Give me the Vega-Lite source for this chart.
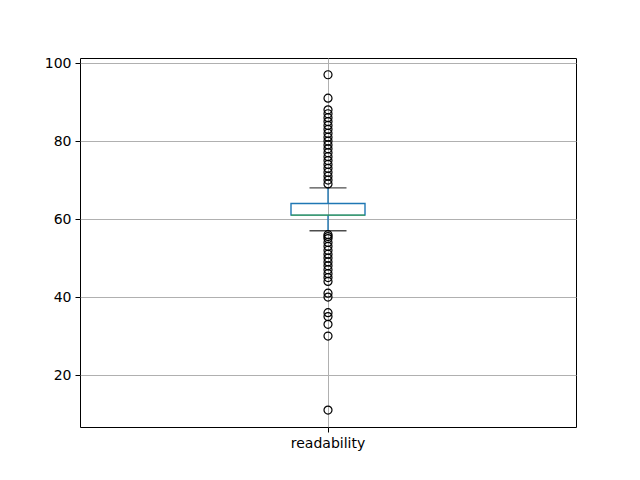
{
  "$schema": "https://vega.github.io/schema/vega-lite/v6.json",
  "autosize": "none",
  "width": 496,
  "height": 369,
  "padding": {"left": 80, "top": 58, "right": 64, "bottom": 53},
  "background": "white",
  "config": {
    "font": "DejaVu Sans",
    "view": {"stroke": "black", "strokeWidth": 1},
    "axis": {
      "labelFont": "DejaVu Sans",
      "labelFontSize": 14,
      "labelColor": "black",
      "tickColor": "black",
      "tickSize": 5,
      "tickWidth": 1,
      "labelPadding": 4,
      "grid": true,
      "gridColor": "#b0b0b0",
      "gridWidth": 1,
      "domain": false,
      "title": null
    }
  },
  "datasets": {
    "summary": [
      {"column": "readability", "lower": 57, "q1": 61, "median": 61, "q3": 64, "upper": 68}
    ],
    "outliers": [
      {"column": "readability", "value": 97},
      {"column": "readability", "value": 91},
      {"column": "readability", "value": 88},
      {"column": "readability", "value": 87},
      {"column": "readability", "value": 86},
      {"column": "readability", "value": 85},
      {"column": "readability", "value": 84},
      {"column": "readability", "value": 83},
      {"column": "readability", "value": 82},
      {"column": "readability", "value": 81},
      {"column": "readability", "value": 80},
      {"column": "readability", "value": 79},
      {"column": "readability", "value": 78},
      {"column": "readability", "value": 77},
      {"column": "readability", "value": 76},
      {"column": "readability", "value": 75},
      {"column": "readability", "value": 74},
      {"column": "readability", "value": 73},
      {"column": "readability", "value": 72},
      {"column": "readability", "value": 71},
      {"column": "readability", "value": 70},
      {"column": "readability", "value": 69},
      {"column": "readability", "value": 56},
      {"column": "readability", "value": 55.5},
      {"column": "readability", "value": 55},
      {"column": "readability", "value": 54},
      {"column": "readability", "value": 53},
      {"column": "readability", "value": 52},
      {"column": "readability", "value": 51},
      {"column": "readability", "value": 50},
      {"column": "readability", "value": 49},
      {"column": "readability", "value": 48},
      {"column": "readability", "value": 47},
      {"column": "readability", "value": 46},
      {"column": "readability", "value": 45},
      {"column": "readability", "value": 44},
      {"column": "readability", "value": 41},
      {"column": "readability", "value": 40},
      {"column": "readability", "value": 36},
      {"column": "readability", "value": 35},
      {"column": "readability", "value": 33},
      {"column": "readability", "value": 30},
      {"column": "readability", "value": 11}
    ]
  },
  "layer": [
    {
      "data": {"name": "summary"},
      "mark": {"type": "rule", "color": "#1f77b4", "strokeWidth": 1.4},
      "encoding": {
        "x": {"field": "column", "type": "nominal", "scale": {"paddingInner": 0, "paddingOuter": 1}, "axis": {"labelAngle": 0, "bandPosition": 0.5}},
        "y": {"field": "lower", "type": "quantitative", "scale": {"domain": [6.67, 101.3], "nice": false, "zero": false}, "axis": {"values": [20, 40, 60, 80, 100], "tickCount": 5}},
        "y2": {"field": "q1"}
      }
    },
    {
      "data": {"name": "summary"},
      "mark": {"type": "rule", "color": "#1f77b4", "strokeWidth": 1.4},
      "encoding": {
        "x": {"field": "column", "type": "nominal"},
        "y": {"field": "q3", "type": "quantitative"},
        "y2": {"field": "upper"}
      }
    },
    {
      "data": {"name": "summary"},
      "mark": {"type": "rect", "fill": "white", "fillOpacity": 0, "stroke": "#1f77b4", "strokeWidth": 1.4, "width": 74},
      "encoding": {
        "x": {"field": "column", "type": "nominal"},
        "y": {"field": "q1", "type": "quantitative"},
        "y2": {"field": "q3"}
      }
    },
    {
      "data": {"name": "summary"},
      "mark": {"type": "tick", "color": "#2ca02c", "size": 74, "thickness": 1.4, "orient": "horizontal"},
      "encoding": {
        "x": {"field": "column", "type": "nominal"},
        "y": {"field": "median", "type": "quantitative"}
      }
    },
    {
      "data": {"name": "summary"},
      "mark": {"type": "tick", "color": "black", "size": 37, "thickness": 1.4, "orient": "horizontal"},
      "encoding": {
        "x": {"field": "column", "type": "nominal"},
        "y": {"field": "lower", "type": "quantitative"}
      }
    },
    {
      "data": {"name": "summary"},
      "mark": {"type": "tick", "color": "black", "size": 37, "thickness": 1.4, "orient": "horizontal"},
      "encoding": {
        "x": {"field": "column", "type": "nominal"},
        "y": {"field": "upper", "type": "quantitative"}
      }
    },
    {
      "data": {"name": "outliers"},
      "mark": {"type": "point", "shape": "circle", "filled": false, "stroke": "black", "strokeWidth": 1.2, "size": 64, "opacity": 1},
      "encoding": {
        "x": {"field": "column", "type": "nominal"},
        "y": {"field": "value", "type": "quantitative"}
      }
    }
  ]
}
